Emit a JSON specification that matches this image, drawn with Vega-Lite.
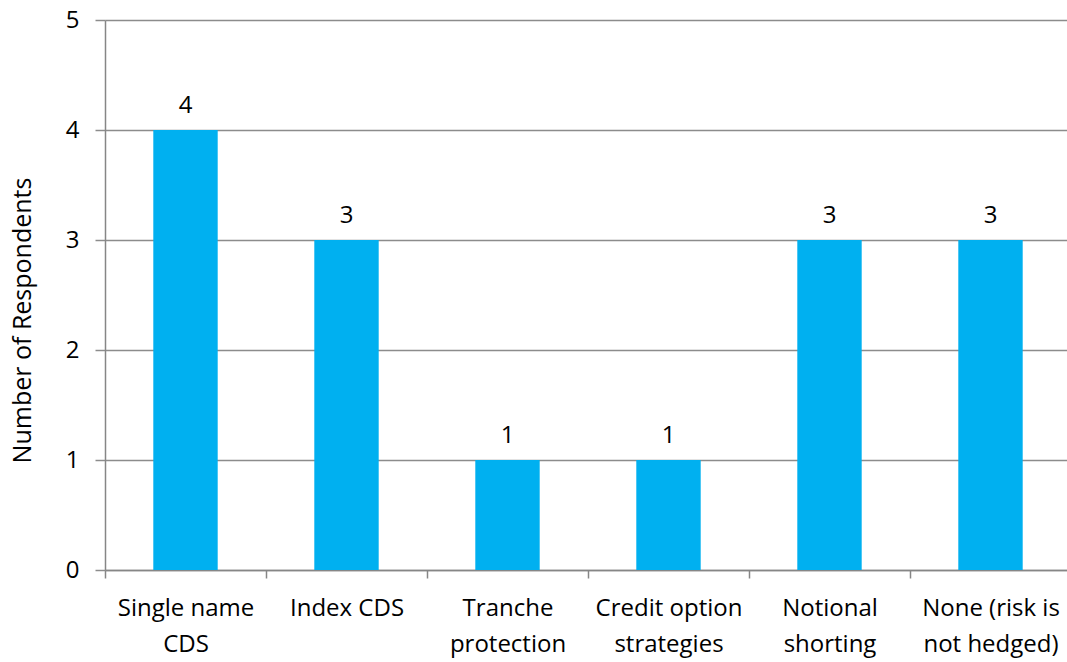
{
  "$schema": "https://vega.github.io/schema/vega-lite/v6.json",
  "width": 966,
  "height": 550,
  "autosize": {"type": "none"},
  "padding": {"left": 105, "top": 20, "right": 0, "bottom": 92},
  "background": "white",
  "data": {"values": [
    {"category": "Single name|CDS", "count": 4},
    {"category": "Index CDS", "count": 3},
    {"category": "Tranche|protection", "count": 1},
    {"category": "Credit option|strategies", "count": 1},
    {"category": "Notional|shorting", "count": 3},
    {"category": "None (risk is|not hedged)", "count": 3}
  ]},
  "config": {
    "font": "Open Sans",
    "view": {"stroke": null},
    "axis": {"labelFont": "Open Sans", "titleFont": "Open Sans", "labelColor": "black", "titleColor": "black"}
  },
  "encoding": {
    "x": {
      "field": "category", "type": "nominal", "sort": null,
      "scale": {"paddingInner": 0, "paddingOuter": 0},
      "axis": {
        "title": null, "labelAngle": 0, "labelFontSize": 24,
        "labelExpr": "split(datum.label, '|')", "labelLineHeight": 36,
        "labelPadding": 18, "tickBand": "extent", "tickSize": 8,
        "tickColor": "#868686", "domainColor": "#868686", "tickWidth": 1.5, "domainWidth": 1.5
      }
    },
    "y": {
      "field": "count", "type": "quantitative",
      "scale": {"domain": [0, 5]},
      "axis": {
        "title": "Number of Respondents", "titleFontSize": 25, "titleFontWeight": "normal",
        "titlePadding": 30, "titleY": 300, "labelFontSize": 24, "labelPadding": 16,
        "values": [0, 1, 2, 3, 4, 5], "labelOverlap": false,
        "grid": true, "gridColor": "#8c8c8c", "gridWidth": 1.5,
        "tickSize": 10, "tickColor": "#8c8c8c", "tickWidth": 1.5,
        "domainColor": "#868686", "domainWidth": 1.5
      }
    }
  },
  "layer": [
    {"mark": {"type": "bar", "color": "#00B0F0", "width": {"band": 0.4}}},
    {"mark": {"type": "text", "baseline": "bottom", "dy": -12, "fontSize": 24, "color": "black"},
     "encoding": {"text": {"field": "count", "type": "quantitative"}}}
  ]
}
